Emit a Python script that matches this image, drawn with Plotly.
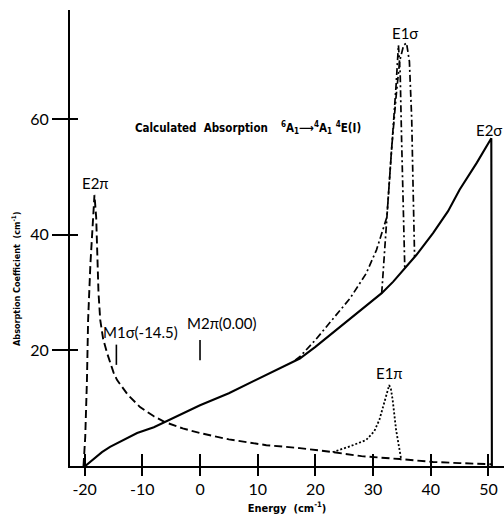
import plotly.graph_objects as go

# Energy axis values (cm^-1) and absorption coefficients (cm^-1)
e2s_x = [-19.9, -18.2, -17.0, -15.6, -13.0, -10.9, -8.0, -6.1, -3.0, 0.0, 5.0, 9.8,
         15.6, 17.3, 20.0, 23.0, 26.0, 28.5, 31.5, 33.5, 35.5, 37.5, 40.4, 43.0,
         45.0, 48.0, 50.5, 50.6]
e2s_y = [0.0, 1.4, 2.4, 3.3, 4.6, 5.7, 6.7, 7.6, 9.0, 10.5, 12.6, 14.9,
         17.8, 18.6, 20.6, 23.0, 25.4, 27.5, 29.9, 31.9, 34.2, 36.5, 40.3, 44.1,
         47.8, 52.5, 56.7, 0.0]

e2p_x = [-20.2, -19.9, -19.6, -19.4, -19.0, -18.6, -18.3, -18.0, -17.8, -17.6, -17.3,
         -16.8, -16.1, -15.0, -14.4, -12.5, -10.4, -8.0, -6.1, -3.0, 0.0, 5.0, 11.5,
         17.3, 23.0, 28.0, 34.6, 37.2, 40.4, 45.0, 50.5]
e2p_y = [0.0, 5.0, 14.9, 25.3, 35.0, 43.0, 46.9, 43.0, 37.4, 30.0, 25.3,
         22.0, 19.5, 16.2, 14.9, 12.3, 10.2, 8.6, 7.6, 6.5, 5.7, 4.6, 3.6,
         3.1, 2.4, 1.7, 1.2, 1.0, 0.7, 0.5, 0.3]

e1p_x = [23.0, 26.0, 28.8, 30.2, 31.1, 32.0, 32.5, 32.8, 33.1, 33.4, 34.0, 34.6, 34.9]
e1p_y = [2.4, 3.4, 4.5, 6.0, 8.0, 11.4, 13.3, 14.0, 13.3, 11.4, 6.2, 2.2, 1.0]

e1s_a_x = [16.5, 17.3, 20.0, 23.0, 26.0, 28.8, 30.6, 32.4, 33.4, 34.0, 34.4,
           34.7, 34.95, 35.2, 35.5]
e1s_a_y = [18.3, 18.9, 21.8, 25.3, 29.0, 33.3, 37.4, 43.1, 56.4, 66.0, 72.8,
           68.0, 56.4, 45.0, 34.2]

e1s_b_x = [31.5, 31.7, 32.0, 32.4, 33.2, 34.0, 34.6, 35.3, 35.8, 36.3, 36.7,
           36.9, 37.0, 37.2]
e1s_b_y = [29.9, 33.0, 37.4, 43.1, 54.7, 64.0, 70.0, 72.8, 73.2, 70.0, 60.0,
           50.0, 42.0, 36.2]

# Magnetic dipole positions quoted in the labels
m_pos = [-14.5, 0.0]
m_low = [17.5, 18.3]
m_high = [21.0, 21.8]

x_ticks = [-20, -10, 0, 10, 20, 30, 40, 50]
x_tick_text = ["-20", "-10", "0", "10", "20", "30", "40", "50"]
y_ticks = [20, 40, 60]
y_tick_text = ["20", "40", "60"]

label_font = dict(family="Lato, DejaVu Sans", size=15, color="black")
narrow = "Liberation Sans Narrow, DejaVu Sans Condensed, Arial Narrow"

fig = go.Figure()

fig.add_trace(go.Scatter(x=e2p_x, y=e2p_y, mode="lines",
                         line=dict(color="black", width=1.9, dash="8px,4px")))
fig.add_trace(go.Scatter(x=e1p_x, y=e1p_y, mode="lines",
                         line=dict(color="black", width=1.8, dash="2px,2px")))
fig.add_trace(go.Scatter(x=e1s_a_x, y=e1s_a_y, mode="lines",
                         line=dict(color="black", width=1.7, dash="7px,3px,2px,3px")))
fig.add_trace(go.Scatter(x=e1s_b_x, y=e1s_b_y, mode="lines",
                         line=dict(color="black", width=1.7, dash="7px,3px,2px,3px")))
fig.add_trace(go.Scatter(x=e2s_x, y=e2s_y, mode="lines",
                         line=dict(color="black", width=2.1)))

mx, my = [], []
for p, lo, hi in zip(m_pos, m_low, m_high):
    mx += [p, p, None]
    my += [lo, hi, None]
fig.add_trace(go.Scatter(x=mx, y=my, mode="lines",
                         line=dict(color="black", width=1.6)))

labels = [
    ("E1σ", 35.5, 74.9, "center"),
    ("E2σ", 52.7, 58.1, "right"),
    ("E2π", -18.2, 49.0, "center"),
    ("E1π", 32.9, 16.1, "center"),
    ("M1σ(-14.5)", -10.4, 23.2, "center"),
    ("M2π(0.00)", 3.8, 24.7, "center"),
]
for text, x, y, anchor in labels:
    fig.add_annotation(x=x, y=y, text=text, showarrow=False, xanchor=anchor,
                       yanchor="middle", font=label_font)

fig.add_annotation(
    x=-11.6, y=58.5, xanchor="left", yanchor="middle", showarrow=False,
    text="<b>Calculated  Absorption</b>    <b><sup>6</sup>A<sub>1</sub>⟶<sup>4</sup>A<sub>1</sub> <sup>4</sup>E(I)</b>",
    font=dict(family=narrow, size=11.5, color="black"),
)

# Vertical axis caption, sitting a little below the middle of the axis
fig.add_annotation(
    xref="paper", x=-0.124, y=32.4, xanchor="center", yanchor="middle",
    showarrow=False, textangle=-90,
    text="<b>Absorption Coefficient  (cm<sup>-1</sup>)</b>",
    font=dict(family=narrow, size=9, color="black"),
)

axis_common = dict(showgrid=False, zeroline=False, color="black",
                   tickcolor="black", tickwidth=1.5)

fig.update_layout(
    width=504, height=515,
    margin=dict(l=70, r=0, t=10, b=49),
    paper_bgcolor="white", plot_bgcolor="white",
    showlegend=False,
    xaxis=dict(range=[-22.54, 52.7], tickvals=x_ticks, ticktext=x_tick_text,
               ticks="outside", ticklen=8, showline=True, linewidth=2,
               linecolor="black",
               tickfont=dict(family="Lato, DejaVu Sans", size=16, color="black"),
               title=dict(text="<b>Energy  (cm<sup>-1</sup>)</b>", standoff=7,
                          font=dict(family=narrow, size=11, color="black")),
               **axis_common),
    yaxis=dict(range=[0, 78.9], tickvals=y_ticks, ticktext=y_tick_text,
               ticks="outside", ticklen=16, showline=True, linewidth=2,
               linecolor="black",
               tickfont=dict(family="Lato, DejaVu Sans", size=16, color="black"),
               **axis_common),
    xaxis2=dict(overlaying="x", matches="x", tickvals=x_ticks, ticks="inside",
                ticklen=12, showticklabels=False, showline=False, side="bottom",
                anchor="y", **axis_common),
    yaxis2=dict(overlaying="y", matches="y", tickvals=y_ticks, ticks="inside",
                ticklen=8, showticklabels=False, showline=False, side="left",
                anchor="x", **axis_common),
)

# Empty helper trace so the inner tick marks of the overlaid axes are drawn
fig.add_trace(go.Scatter(x=[None], y=[None], xaxis="x2", yaxis="y2",
                         mode="lines", hoverinfo="skip"))

fig.write_html("out.html")
